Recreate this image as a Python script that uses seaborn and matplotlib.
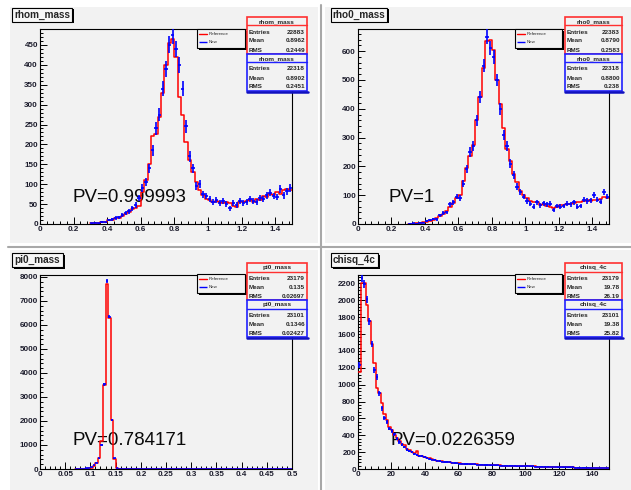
import numpy as np
import pandas as pd
import matplotlib
matplotlib.use("Agg")
import matplotlib.pyplot as plt
import seaborn as sns
from matplotlib.patches import Rectangle
from matplotlib.lines import Line2D
from matplotlib.ticker import MultipleLocator, AutoMinorLocator

# --- data (ROOT comparison plots) ---
# rhom_mass / rho0_mass: bins of 0.02 from 0.30 to 1.50
RHOM_REF = [2, 2, 3, 4, 5, 9, 11, 14, 15, 20, 25, 30, 38, 40, 45,
            80, 110, 150, 220, 225, 270, 330, 400, 455, 465,
            420, 320, 275, 205, 160, 130, 105, 85, 72, 62,
            60, 55, 58, 55, 52, 55, 52, 45, 42, 55,
            55, 58, 60, 55, 62, 60, 70, 68, 75, 72,
            80, 75, 85, 88, 85]
RHOM_NEW = [2, 3, 2, 5, 4, 10, 12, 15, 17, 22, 27, 32, 40, 48, 65,
            90, 105, 140, 185, 240, 275, 340, 390, 450, 475,
            440, 400, 340, 245, 170, 140, 95, 100, 75, 70,
            62, 55, 60, 52, 58, 50, 40, 52, 48, 58,
            52, 55, 62, 58, 55, 65, 62, 72, 78, 70,
            68, 88, 72, 82, 90]
RHO0_REF = [1, 1, 2, 4, 6, 8, 12, 15, 20, 28, 35, 45, 60, 72, 90,
            100, 150, 195, 235, 275, 360, 440, 540, 635, 640,
            605, 500, 415, 335, 260, 220, 175, 145, 115, 100,
            90, 80, 78, 75, 65, 70, 62, 58, 55, 60,
            65, 65, 68, 70, 72, 75, 78, 80, 85, 80,
            82, 85, 88, 95, 90]
RHO0_NEW = [1, 2, 1, 5, 5, 10, 15, 18, 16, 30, 38, 40, 68, 75, 95,
            90, 140, 190, 250, 270, 360, 440, 550, 650, 610,
            580, 500, 400, 310, 270, 210, 170, 130, 110, 95,
            80, 70, 60, 75, 65, 72, 68, 70, 48, 62,
            60, 62, 70, 68, 75, 60, 62, 85, 80, 82,
            100, 85, 78, 110, 95]
# pi0_mass: bins of 0.005 from 0.07 to 0.50 (empty above 0.17)
PI0_REF = [3, 5, 8, 12, 20, 35, 60, 110, 250, 450, 1150, 3500, 7700, 6300,
           2050, 420, 50, 10, 4, 2] + [0] * 66
PI0_NEW = [2, 6, 10, 15, 25, 40, 80, 150, 270, 440, 1000, 3520, 7830, 6350,
           2030, 450, 40, 12, 3, 2] + [0] * 66
# chisq_4c: bins of 1.5 from 0 to 150
CHI_REF = [1150, 2200, 2200, 1950, 1750, 1480, 1260, 960, 900, 780, 650, 580, 500, 460, 400,
           370, 330, 300, 280, 240, 220, 200, 190, 210, 160, 150, 140, 135, 125, 115,
           110, 100, 95, 90, 88, 85, 80, 76, 72, 70, 68, 65, 62, 60, 58,
           56, 55, 54, 52, 50, 50, 48, 46, 45, 44, 43, 42, 41, 40, 40,
           38, 37, 36, 35, 40, 34, 33, 32, 31, 30, 30, 29, 28, 27, 26,
           25, 24, 23, 22, 22, 21, 20, 20, 19, 18, 18, 17, 16, 16, 15,
           15, 14, 14, 13, 13, 12, 12, 11, 11, 10]
CHI_NEW = [1230, 2270, 2190, 2010, 1750, 1480, 1170, 1090, 900, 720, 600, 560, 480, 450, 410,
           360, 320, 290, 260, 230, 215, 205, 180, 170, 155, 150, 140, 130, 120, 112,
           105, 100, 92, 88, 85, 82, 78, 75, 70, 66, 65, 63, 60, 58, 56,
           55, 54, 52, 50, 49, 48, 47, 45, 44, 43, 42, 41, 40, 39, 38,
           37, 36, 36, 35, 34, 33, 32, 38, 30, 30, 29, 28, 28, 27, 26,
           25, 24, 24, 23, 22, 21, 21, 20, 19, 19, 18, 17, 17, 16, 16,
           15, 15, 14, 14, 13, 13, 12, 12, 11, 11]

NAMES = ["rhom_mass", "rho0_mass", "pi0_mass", "chisq_4c"]
PV_TEXT = ["PV=0.999993", "PV=1", "PV=0.784171", "PV=0.0226359"]
STATS_REF = [("22883", "0.8962", "0.2449"), ("22383", "0.8790", "0.2583"),
             ("23179", "0.135", "0.02697"), ("23179", "19.78", "26.19")]
STATS_NEW = [("22318", "0.8902", "0.2451"), ("22318", "0.8800", "0.238"),
             ("23101", "0.1346", "0.02427"), ("23101", "19.38", "25.82")]

W, H = 631, 490
PAD = "#f2f2f2"
FONT = ["Liberation Sans", "DejaVu Sans"]

sns.set_style("ticks")
plt.rcParams["font.family"] = FONT


def fx(x):
    return x / W


def fy(y):
    return 1 - y / H


def box(fig, x0, y0, x1, y1, fc=PAD, ec="black", lw=0.8, shadow=0, z=5):
    if shadow:
        fig.add_artist(Rectangle((fx(x0 + shadow), fy(y1 + shadow)), (x1 - x0) / W, (y1 - y0) / H,
                                 transform=fig.transFigure, fc="black", ec="none", zorder=z))
    fig.add_artist(Rectangle((fx(x0), fy(y1)), (x1 - x0) / W, (y1 - y0) / H,
                             transform=fig.transFigure, fc=fc, ec=ec, lw=lw, zorder=z + 0.1))


fig = plt.figure(figsize=(W / 100, H / 100), dpi=100)
fig.patch.set_facecolor("white")

# pads and dividers
for (x0, y0, x1, y1) in [(10, 7, 318, 243), (325, 7, 631, 243), (10, 250, 318, 490), (325, 250, 631, 490)]:
    fig.add_artist(Rectangle((fx(x0), fy(y1)), (x1 - x0) / W, (y1 - y0) / H,
                             transform=fig.transFigure, fc=PAD, ec="none", zorder=-2))
fig.add_artist(Line2D([fx(321), fx(321)], [0, fy(5)], transform=fig.transFigure, color="#a8a8a8", lw=1.5, zorder=-1))
fig.add_artist(Line2D([fx(8), 1], [fy(246.5), fy(246.5)], transform=fig.transFigure, color="#a8a8a8", lw=1.5, zorder=-1))

panels = [
    dict(lo=0.30, hi=1.50, n=60, ref=RHOM_REF, new=RHOM_NEW, xlim=(0, 1.5), ylim=(0, 490),
         xmaj=0.2, ymaj=50, ax=(40, 29, 292, 224), title=(12, 8, 72, 22),
         leg=(197, 29, 245, 48), stats=(247, 17, 307), pv=(73, 202)),
    dict(lo=0.30, hi=1.50, n=60, ref=RHO0_REF, new=RHO0_NEW, xlim=(0, 1.5), ylim=(0, 677),
         xmaj=0.2, ymaj=100, ax=(358, 29, 609, 224), title=(331, 8, 387, 22),
         leg=(515, 29, 562, 48), stats=(565, 17, 622), pv=(389, 202)),
    dict(lo=0.07, hi=0.50, n=86, ref=PI0_REF, new=PI0_NEW, xlim=(0, 0.5), ylim=(0, 8080),
         xmaj=0.05, ymaj=1000, ax=(40, 275, 292, 469), title=(12, 253, 63, 267),
         leg=(197, 274, 245, 293), stats=(247, 263, 307), pv=(73, 445)),
    dict(lo=0.0, hi=150.0, n=100, ref=CHI_REF, new=CHI_NEW, xlim=(0, 150), ylim=(0, 2300),
         xmaj=20, ymaj=200, ax=(358, 275, 609, 469), title=(331, 253, 378, 267),
         leg=(515, 274, 562, 293), stats=(565, 263, 622), pv=(391, 445)),
]

for i, p in enumerate(panels):
    x0, y0, x1, y1 = p["ax"]
    ax = fig.add_axes([fx(x0), fy(y1), (x1 - x0) / W, (y1 - y0) / H])
    ax.set_facecolor(PAD)

    edges = np.linspace(p["lo"], p["hi"], p["n"] + 1)
    centers = 0.5 * (edges[:-1] + edges[1:])
    width = edges[1] - edges[0]
    df = pd.DataFrame({"x": centers, "ref": p["ref"], "new": p["new"]}).astype(float)

    # reference histogram (red step) and new (blue error crosses)
    sns.histplot(data=df, x="x", weights="ref", bins=list(edges), element="step", fill=False,
                 color="red", linewidth=1.1, ax=ax, zorder=3)
    ax.errorbar(df["x"], df["new"], xerr=width / 2, yerr=np.sqrt(df["new"]), fmt="none",
                ecolor="blue", elinewidth=1.2, capsize=0, zorder=4)

    ax.set_xlim(*p["xlim"])
    ax.set_ylim(*p["ylim"])
    ax.set_xlabel("")
    ax.set_ylabel("")
    ax.xaxis.set_major_locator(MultipleLocator(p["xmaj"]))
    ax.yaxis.set_major_locator(MultipleLocator(p["ymaj"]))
    ax.xaxis.set_minor_locator(AutoMinorLocator(5))
    ax.yaxis.set_minor_locator(AutoMinorLocator(5))
    ax.xaxis.set_major_formatter(plt.FuncFormatter(lambda v, _: f"{v:g}"))
    ax.yaxis.set_major_formatter(plt.FuncFormatter(lambda v, _: f"{v:g}"))
    ax.tick_params(which="both", direction="in", width=0.7, colors="black",
                   labelsize=5.8, labelcolor="#1c1c2c")
    ax.tick_params(which="major", length=5, pad=1.5)
    ax.tick_params(which="minor", length=2.5)
    for lab in ax.get_xticklabels() + ax.get_yticklabels():
        lab.set_fontweight("bold")
    for s in ax.spines.values():
        s.set_linewidth(0.8)
        s.set_color("black")

    # PV text, under the data
    ax.text(fx(p["pv"][0]), fy(p["pv"][1]), PV_TEXT[i], transform=fig.transFigure,
            fontsize=13.5, color="#0a0a0a", ha="left", va="baseline", zorder=1)

    # title box
    tx0, ty0, tx1, ty1 = p["title"]
    box(fig, tx0, ty0, tx1, ty1, fc="#f7f7f7", lw=0.8, shadow=1.5)
    fig.text(fx((tx0 + tx1) / 2), fy((ty0 + ty1) / 2), NAMES[i], ha="center", va="center",
             fontsize=7.2, fontweight="bold", zorder=7)

    # legend box
    lx0, ly0, lx1, ly1 = p["leg"]
    box(fig, lx0, ly0, lx1, ly1, lw=0.8, shadow=2)
    for row, (lbl, col, ls) in enumerate([("Reference", "red", "-"), ("New", "blue", "-.")]):
        yy = ly0 + 5 + row * 8
        fig.add_artist(Line2D([fx(lx0 + 2), fx(lx0 + 10)], [fy(yy), fy(yy)], transform=fig.transFigure,
                              color=col, lw=1, ls=ls, zorder=7))
        fig.text(fx(lx0 + 12), fy(yy), lbl, fontsize=3.2, va="center", ha="left", zorder=7)

    # stats boxes
    sx0, sy0, sx1 = p["stats"]
    for k, (col, vals) in enumerate([("#ff3030", STATS_REF[i]), ("#2020ff", STATS_NEW[i])]):
        top = sy0 + k * 37
        box(fig, sx0, top, sx1, top + 37, fc=PAD, ec=col, lw=1.2, z=8)
        fig.add_artist(Line2D([fx(sx0), fx(sx1)], [fy(top + 8.5), fy(top + 8.5)],
                              transform=fig.transFigure, color=col, lw=1, zorder=9))
        fig.text(fx((sx0 + sx1) / 2), fy(top + 4.5), NAMES[i], ha="center",
                 va="center", fontsize=4.6, fontweight="bold", zorder=9)
        for r, (key, v) in enumerate(zip(["Entries", "Mean", "RMS"], vals)):
            yy = top + 15 + r * 9
            fig.text(fx(sx0 + 2), fy(yy), key, ha="left", va="center", fontsize=4.6,
                     fontweight="bold", zorder=9)
            fig.text(fx(sx1 - 2), fy(yy), v, ha="right", va="center", fontsize=4.6,
                     fontweight="bold", zorder=9)
    # dark bottom edge of the stats pair
    fig.add_artist(Line2D([fx(sx0), fx(sx1 + 1)], [fy(sy0 + 75), fy(sy0 + 75)],
                          transform=fig.transFigure, color="#1010c0", lw=1.8, zorder=9))

fig.savefig("out.png", dpi=100, facecolor="white")
